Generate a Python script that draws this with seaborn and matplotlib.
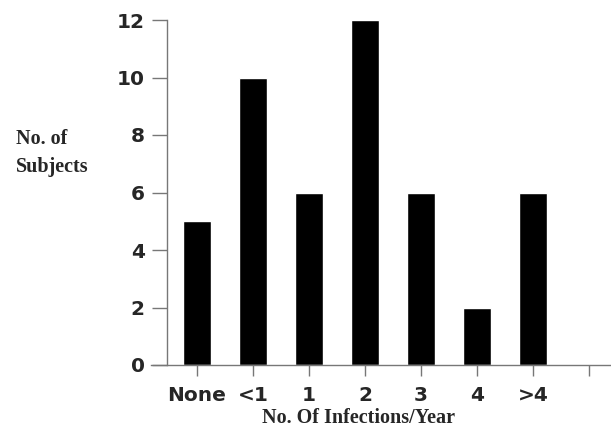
import matplotlib
matplotlib.use("Agg")
import matplotlib.pyplot as plt
import seaborn as sns
import pandas as pd

# Dữ liệu
categories = ["None", "<1", "1", "2", "3", "4", ">4"]
subjects = [5, 10, 6, 12, 6, 2, 6]
y_ticks = [0, 2, 4, 6, 8, 10, 12]

sns.set_style("white")
plt.rcParams['font.family'] = ['DejaVu Sans']

df = pd.DataFrame({"cat": categories, "n": subjects})

fig = plt.figure(figsize=(6.11, 4.28), dpi=100)
ax = fig.add_axes([151 / 611, (428 - 365) / 428, (611 - 151) / 611, (365 - 20) / 428])

sns.barplot(data=df, x="cat", y="n", order=categories, color="black",
            width=0.5, saturation=1, ax=ax)

ax.set_xlim(-0.82, 7.39)
ax.set_ylim(0, 12)

# Trục tung đặt lệch vào trong, trục hoành kéo dài
ax.spines['left'].set_position(('data', -0.536))
ax.spines['top'].set_visible(False)
ax.spines['right'].set_visible(False)
for s in ['left', 'bottom']:
    ax.spines[s].set_color('#777777')
    ax.spines[s].set_linewidth(1.0)

ax.set_yticks(y_ticks)
ax.set_yticklabels([str(v) for v in y_ticks], fontsize=14.5, fontweight='bold')
ax.set_xticks(range(len(categories) + 1))
ax.set_xticklabels(categories + [""], fontsize=14.5, fontweight='bold')
ax.tick_params(axis='y', direction='out', length=11, width=1, color='#777777', pad=5, left=True)
ax.tick_params(axis='x', direction='out', length=8, width=1, color='#777777', pad=7, bottom=True)

ax.set_xlabel("No. Of Infections/Year", family='Liberation Serif', fontsize=14.5,
              fontweight='bold')
ax.xaxis.set_label_coords((358 - 151) / 460, -(418 - 365) / 345)
ax.xaxis.label.set_va('center')
ax.set_ylabel("")
fig.text(16 / 611, 1 - 153 / 428, "No. of\nSubjects", family='Liberation Serif',
         fontsize=14.5, fontweight='bold', ha='left', va='center', linespacing=1.55)

fig.savefig("out.png", dpi=100)
